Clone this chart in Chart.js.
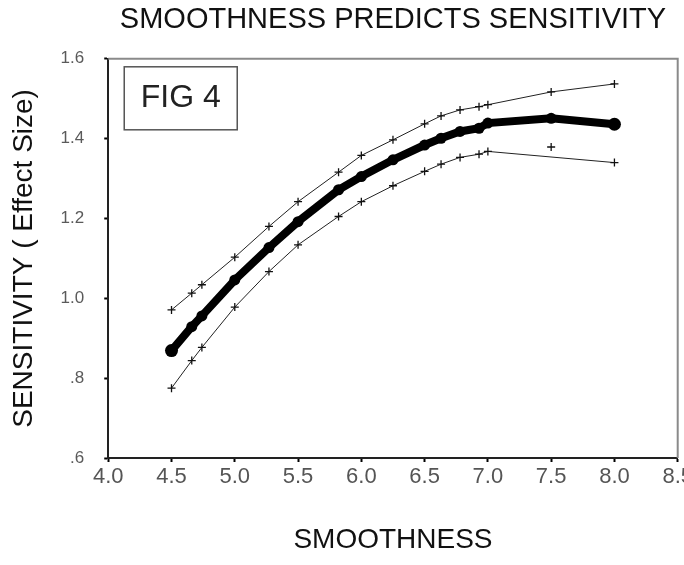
<!DOCTYPE html>
<html>
<head>
<meta charset="utf-8">
<script src="https://cdn.jsdelivr.net/npm/chart.js@4/dist/chart.umd.min.js"></script>
<style>
  html, body { margin: 0; padding: 0; background: #fff; overflow: hidden; }
  #wrap { width: 695px; height: 565px; }
</style>
</head>
<body>
<div id="wrap"><canvas id="c" width="695" height="565"></canvas></div>
<script>
// ---- data ----
const smoothness = [4.5, 4.66, 4.74, 5.0, 5.27, 5.5, 5.82, 6.0, 6.25, 6.5, 6.63, 6.78, 6.93, 7.0, 7.5, 8.0];
const sensitivity = [0.869, 0.929, 0.956, 1.046, 1.127, 1.192, 1.272, 1.305, 1.347, 1.384, 1.401, 1.418, 1.426, 1.439, 1.451, 1.436];
const upperBound = [0.971, 1.013, 1.034, 1.103, 1.180, 1.242, 1.316, 1.358, 1.397, 1.437, 1.457, 1.472, 1.480, 1.485, 1.517, 1.537];
const lowerSmoothness = [4.5, 4.66, 4.74, 5.0, 5.27, 5.5, 5.82, 6.0, 6.25, 6.5, 6.63, 6.78, 6.93, 7.0, 8.0];
const lowerBound = [0.775, 0.844, 0.877, 0.978, 1.067, 1.134, 1.205, 1.242, 1.282, 1.318, 1.336, 1.353, 1.361, 1.368, 1.340];
const lowerExtraSmoothness = [7.5];
const lowerExtra = [1.379];

const xTickLabels = ['4.0', '4.5', '5.0', '5.5', '6.0', '6.5', '7.0', '7.5', '8.0', '8.5'];
const yTickLabels = ['.6', '.8', '1.0', '1.2', '1.4', '1.6'];

const chartTitle = 'SMOOTHNESS PREDICTS SENSITIVITY';
const xTitle = 'SMOOTHNESS';
const yTitle = 'SENSITIVITY ( Effect Size)';
const boxLabel = 'FIG 4';

const pts = (xs, ys) => xs.map((x, i) => ({ x: x, y: ys[i] }));

const FONT = "'Liberation Sans', Arial, sans-serif";

const framePlugin = {
  id: 'frame',
  beforeDatasetsDraw(chart) {
    const { ctx, chartArea: a } = chart;
    ctx.save();
    ctx.strokeStyle = '#8a8a8a';
    ctx.lineWidth = 2;
    ctx.beginPath();
    ctx.moveTo(a.left, a.top);
    ctx.lineTo(a.right, a.top);
    ctx.lineTo(a.right, a.bottom);
    ctx.stroke();
    // FIG 4 label box
    const bx = a.left + 16, by = a.top + 8, bw = 113, bh = 63;
    ctx.strokeStyle = '#555';
    ctx.lineWidth = 1.5;
    ctx.strokeRect(bx, by, bw, bh);
    ctx.fillStyle = '#222';
    ctx.font = "32px " + FONT;
    ctx.textAlign = 'center';
    ctx.textBaseline = 'alphabetic';
    ctx.fillText(boxLabel, bx + bw / 2, by + 40);
    ctx.restore();
  }
};

new Chart(document.getElementById('c'), {
  type: 'line',
  data: {
    datasets: [
      {
        label: 'Upper',
        data: pts(smoothness, upperBound),
        borderColor: '#222',
        borderWidth: 1,
        pointStyle: 'cross',
        pointRadius: 4,
        pointBorderWidth: 1.3,
        pointBorderColor: '#111',
        tension: 0
      },
      {
        label: 'Lower',
        data: pts(lowerSmoothness, lowerBound),
        borderColor: '#222',
        borderWidth: 1,
        pointStyle: 'cross',
        pointRadius: 4,
        pointBorderWidth: 1.3,
        pointBorderColor: '#111',
        tension: 0
      },
      {
        label: 'Lower extra',
        data: pts(lowerExtraSmoothness, lowerExtra),
        showLine: false,
        pointStyle: 'cross',
        pointRadius: 4,
        pointBorderWidth: 1.3,
        pointBorderColor: '#111'
      },
      {
        label: 'Sensitivity',
        data: pts(smoothness, sensitivity),
        borderColor: '#000',
        backgroundColor: '#000',
        borderWidth: 8,
        pointStyle: 'circle',
        pointRadius: (c) => (c.dataIndex === 0 || c.dataIndex === smoothness.length - 1) ? 6.5 : 5.5,
        pointBorderWidth: 0,
        pointBackgroundColor: '#000',
        tension: 0
      }
    ]
  },
  options: {
    responsive: false,
    animation: false,
    devicePixelRatio: 1,
    layout: { padding: 0 },
    plugins: {
      legend: { display: false },
      tooltip: { enabled: false },
      title: {
        display: true,
        text: chartTitle,
        fullSize: false,
        color: '#111',
        font: { family: FONT, size: 29, weight: 'normal' },
        padding: { top: 3, bottom: 21 }
      }
    },
    scales: {
      x: {
        type: 'linear',
        min: 4.0,
        max: 8.5,
        ticks: {
          stepSize: 0.5,
          color: '#555',
          font: { family: FONT, size: 22 },
          padding: 2,
          maxRotation: 0,
          autoSkip: false,
          callback: (v, i) => xTickLabels[i]
        },
        grid: { drawOnChartArea: false, drawTicks: true, tickLength: 4, tickWidth: 2, color: '#000' },
        border: { display: true, color: '#222', width: 2 },
        title: {
          display: true,
          text: xTitle,
          color: '#111',
          font: { family: FONT, size: 28, weight: 'normal' },
          padding: { top: 31, bottom: 8 }
        }
      },
      y: {
        type: 'linear',
        min: 0.6,
        max: 1.6,
        ticks: {
          stepSize: 0.2,
          color: '#5a5a5a',
          font: { family: FONT, size: 17 },
          padding: 20,
          autoSkip: false,
          callback: (v, i) => yTickLabels[i]
        },
        grid: { drawOnChartArea: false, drawTicks: true, tickLength: 4, tickWidth: 2, color: '#000' },
        border: { display: true, color: '#222', width: 2 },
        title: {
          display: true,
          text: yTitle,
          color: '#111',
          font: { family: FONT, size: 28, weight: 'normal' },
          padding: { top: 7, bottom: 0 }
        }
      }
    }
  },
  plugins: [framePlugin]
});
</script>
</body>
</html>
